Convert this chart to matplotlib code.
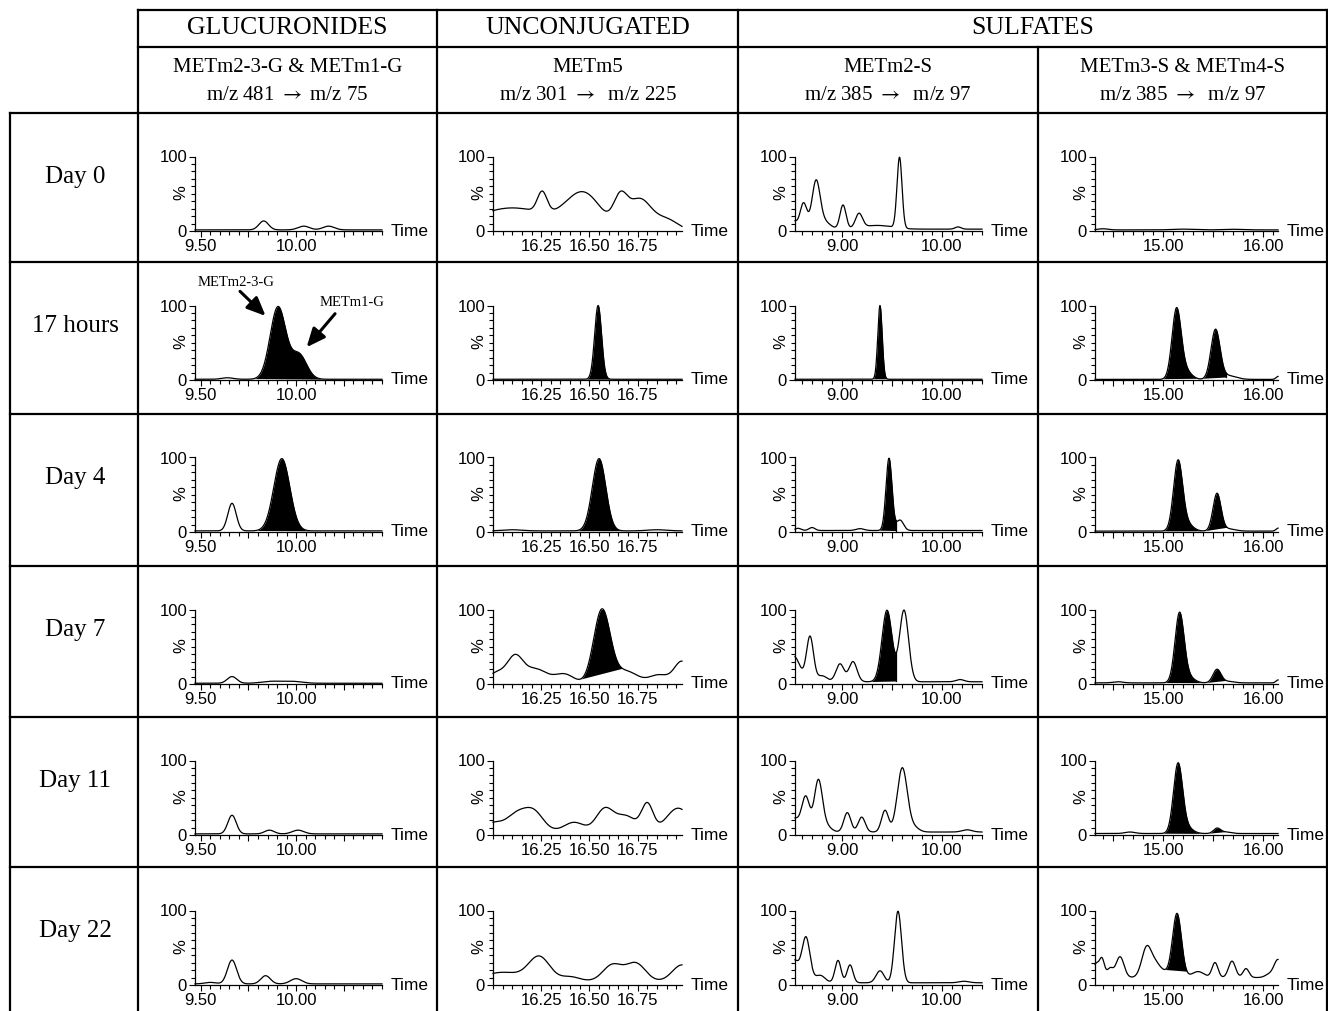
import numpy as np
import matplotlib.pyplot as plt
from matplotlib.ticker import MultipleLocator, FixedLocator, FixedFormatter

SERIF = ['Liberation Serif', 'DejaVu Serif']
plt.rcParams['font.family'] = ['Liberation Sans', 'DejaVu Sans']
plt.rcParams['mathtext.fontset'] = 'stix'

W, H = 1328, 1011

# table text
row_labels = ['Day 0', '17 hours', 'Day 4', 'Day 7', 'Day 11', 'Day 22']
groups = ['GLUCURONIDES', 'UNCONJUGATED', 'SULFATES']
analytes = ['METm2-3-G & METm1-G', 'METm5', 'METm2-S', 'METm3-S & METm4-S']
transitions = [r'm/z 481 $\rightarrow$ m/z 75', r'm/z 301 $\rightarrow$  m/z 225',
               r'm/z 385 $\rightarrow$  m/z 97', r'm/z 385 $\rightarrow$  m/z 97']

# time windows (min) and x tick labels per column
time_windows = [(9.47, 10.45), (16.00, 16.98), (8.53, 10.40), (14.32, 16.15)]
major_ticks = [[9.50, 9.75, 10.00, 10.25], [16.25, 16.50, 16.75],
               [9.00, 9.50, 10.00], [14.50, 15.00, 15.50, 16.00]]
tick_labels = [['9.50', '', '10.00', ''], ['16.25', '16.50', '16.75'],
               ['9.00', '', '10.00'], ['', '15.00', '', '16.00']]
minor_steps = [0.05, 0.05, 0.1, 0.1]

# peaks: (retention time, height %, width sigma)
# glucuronides  m/z 481 -> 75
glu_base = [1.5, 1.0, 1.5, 1.0, 1.5, 1.5]
glu_day0 = [(9.83, 12, 0.025), (10.04, 5, 0.03), (10.17, 5, 0.03)]
glu_17h = [(9.64, 2, 0.03), (9.905, 97, 0.041), (10.015, 33, 0.04)]
glu_day4 = [(9.664, 37, 0.022), (9.925, 97, 0.042)]
glu_day7 = [(9.664, 9, 0.025), (9.87, 2.5, 0.05), (9.98, 2.5, 0.05)]
glu_day11 = [(9.664, 25, 0.022), (9.86, 5, 0.025), (10.01, 5, 0.03)]
glu_day22 = [(9.55, 2, 0.03), (9.664, 32, 0.024), (9.84, 11, 0.025), (10.0, 7, 0.03)]

# unconjugated  m/z 301 -> 225
unc_base = [0, 1.0, 1.5, 0, 5, 5]
unc_day0 = [(16.10, 31, 0.2), (16.255, 28, 0.025), (16.47, 47, 0.09),
            (16.66, 37, 0.035), (16.76, 42, 0.06), (16.90, 15, 0.06)]
unc_17h = [(16.545, 99, 0.018)]
unc_day4 = [(16.10, 1.5, 0.05), (16.55, 97, 0.035), (16.85, 1.5, 0.05)]
unc_day7 = [(16.02, 15, 0.05), (16.115, 33, 0.04), (16.22, 20, 0.06), (16.37, 13, 0.05),
            (16.565, 99, 0.043), (16.69, 17, 0.06), (16.86, 12, 0.05), (16.98, 30, 0.04)]
unc_day11 = [(16.0, 11, 0.05), (16.12, 21, 0.05), (16.21, 26, 0.05), (16.42, 12, 0.05),
             (16.58, 30, 0.045), (16.69, 20, 0.05), (16.80, 36, 0.03), (16.96, 31, 0.06)]
unc_day22 = [(16.05, 12, 0.1), (16.24, 32, 0.055), (16.40, 6, 0.05),
             (16.62, 22, 0.05), (16.74, 24, 0.05), (16.98, 22, 0.05)]

# METm2-S  m/z 385 -> 97
s2_base = [2.5, 1.0, 2.0, 3.0, 4.0, 3.0]
s2_day0 = [(8.52, 10, 0.03), (8.615, 35, 0.035), (8.74, 62, 0.04), (8.82, 10, 0.06),
           (9.01, 32, 0.03), (9.17, 19, 0.035), (9.35, 5, 0.15), (9.575, 95, 0.025),
           (10.16, 3, 0.03)]
s2_17h = [(9.38, 99, 0.022)]
s2_day4 = [(8.56, 3, 0.03), (8.70, 4, 0.03), (9.18, 2.5, 0.04), (9.47, 97, 0.03),
           (9.58, 14, 0.035)]
s2_day7 = [(8.52, 34, 0.06), (8.68, 60, 0.035), (8.80, 8, 0.05), (8.98, 24, 0.04),
           (9.11, 27, 0.04), (9.45, 96, 0.05), (9.62, 96, 0.045), (10.18, 3, 0.04)]
s2_day11 = [(8.52, 18, 0.05), (8.637, 47, 0.04), (8.763, 68, 0.04), (8.84, 8, 0.05),
            (9.053, 26, 0.035), (9.197, 20, 0.035), (9.43, 29, 0.035), (9.603, 86, 0.05),
            (9.72, 6, 0.05), (10.25, 3, 0.05)]
s2_day22 = [(8.52, 30, 0.05), (8.64, 60, 0.04), (8.78, 10, 0.05), (8.96, 30, 0.03),
            (9.08, 24, 0.03), (9.38, 16, 0.04), (9.56, 96, 0.035), (10.22, 2, 0.05)]

# METm3-S & METm4-S  m/z 385 -> 97
s34_base = [1.5, 0.8, 1.2, 1.5, 2.0, 10.0]
s34_day0 = [(14.4, 1.5, 0.05), (15.2, 1, 0.1), (15.7, 0.8, 0.1)]
s34_17h = [(15.135, 92, 0.045), (15.22, 12, 0.06), (15.525, 66, 0.045),
           (15.65, 5, 0.08), (16.15, 4, 0.02)]
s34_day4 = [(15.15, 92, 0.045), (15.235, 10, 0.06), (15.54, 50, 0.04),
            (15.65, 3, 0.07), (16.15, 4, 0.02)]
s34_day7 = [(14.55, 1.5, 0.05), (15.165, 92, 0.045), (15.25, 8, 0.06), (15.54, 18, 0.04),
            (15.65, 2, 0.06), (16.15, 4, 0.02)]
s34_day11 = [(14.67, 2, 0.05), (15.15, 92, 0.045), (15.235, 8, 0.06), (15.54, 7, 0.035),
             (15.63, 2, 0.05)]
s34_day22 = [(14.33, 18, 0.03), (14.39, 24, 0.025), (14.47, 12, 0.03), (14.57, 28, 0.04),
             (14.84, 42, 0.05), (14.93, 12, 0.04), (15.0, 8, 0.05), (15.14, 86, 0.045),
             (15.35, 8, 0.06), (15.52, 20, 0.03), (15.69, 22, 0.035), (15.83, 12, 0.03),
             (16.06, 4, 0.04), (16.15, 24, 0.04)]

# integrated (black) areas: (start, end, baseline at start, baseline at end); None = on trace
glu_fill = [[], [(9.78, 10.15, None, None)], [(9.79, 10.10, None, None)], [], [], []]
unc_fill = [[], [(16.48, 16.61, None, None)], [(16.43, 16.67, None, None)],
            [(16.45, 16.67, None, None)], [], []]
s2_fill = [[], [(9.31, 9.45, None, None)], [(9.37, 9.545, None, 2)],
           [(9.28, 9.545, None, 4)], [], []]
s34_fill = [[], [(15.0, 15.40, None, None), (15.40, 15.63, None, 4)],
            [(15.0, 15.41, None, None), (15.41, 15.64, None, None)],
            [(15.02, 15.42, None, None), (15.42, 15.63, None, None)],
            [(15.0, 15.40, None, None), (15.43, 15.62, None, None)],
            [(15.02, 15.33, None, None)]]

peaks = [[glu_day0, glu_17h, glu_day4, glu_day7, glu_day11, glu_day22],
         [unc_day0, unc_17h, unc_day4, unc_day7, unc_day11, unc_day22],
         [s2_day0, s2_17h, s2_day4, s2_day7, s2_day11, s2_day22],
         [s34_day0, s34_17h, s34_day4, s34_day7, s34_day11, s34_day22]]
bases = [glu_base, unc_base, s2_base, s34_base]
fills = [glu_fill, unc_fill, s2_fill, s34_fill]


def trace(t, base, pk):
    y = np.full_like(t, base, dtype=float)
    for rt, h, s in pk:
        y += h * np.exp(-0.5 * ((t - rt) / s) ** 2)
    return y


fig = plt.figure(figsize=(W / 100, H / 100), dpi=100)
bg = fig.add_axes([0, 0, 1, 1])
bg.set_xlim(0, W)
bg.set_ylim(H, 0)
bg.axis('off')

# table grid (pixels)
col_edges = [138, 437, 738, 1038, 1327]
row_top = [113, 262, 414, 566, 717, 867]
LW = 1.6


def line(xs, ys):
    bg.plot(xs, ys, color='k', lw=LW, solid_capstyle='projecting')


line([138, 1327], [10, 10])
line([138, 1327], [47, 47])
for y in row_top:
    line([10, 1327], [y, y])
line([10, 10], [113, H + 5])
for x in col_edges[:3] + [1327]:
    line([x, x], [10, H + 5])
line([1038, 1038], [47, H + 5])

group_x = [287.5, 587.5, 1032.5]
for g, x in zip(groups, group_x):
    bg.text(x, 28, g, ha='center', va='center', fontsize=18.5, family=SERIF)
for c in range(4):
    xc = (col_edges[c] + col_edges[c + 1]) / 2
    bg.text(xc, 67, analytes[c], ha='center', va='center', fontsize=15, family=SERIF)
    bg.text(xc, 95, transitions[c], ha='center', va='center', fontsize=15, family=SERIF)
for r, lab in enumerate(row_labels):
    bg.text(75, row_top[r] + 64, lab, ha='center', va='center', fontsize=18, family=SERIF)

# chromatograms
col_x = [195, 493, 795, 1095]
col_w = [187, 189, 187, 183]
for c in range(4):
    t0, t1 = time_windows[c]
    t = np.linspace(t0, t1, 1500)
    for r in range(6):
        zero = row_top[r] + 118
        ax = fig.add_axes([col_x[c] / W, 1 - zero / H, col_w[c] / W, 74.5 / H])
        ax.set_facecolor('none')
        y = trace(t, bases[c][r], peaks[c][r])
        for a, b, ya, yb in fills[c][r]:
            m = (t >= a) & (t <= b)
            ts = t[m]
            ya = np.interp(a, t, y) if ya is None else ya
            yb = np.interp(b, t, y) if yb is None else yb
            base_line = ya + (yb - ya) * (ts - a) / (b - a)
            ax.fill_between(ts, base_line, y[m], where=y[m] >= base_line,
                            color='k', lw=0, interpolate=True)
            ax.plot([b, b], [yb, np.interp(b, t, y)], color='k', lw=0.9)
        ax.plot(t, y, color='k', lw=0.9, clip_on=False)
        ax.set_xlim(t0, t1)
        ax.set_ylim(0, 100)
        for s in ['top', 'right']:
            ax.spines[s].set_visible(False)
        for s in ['left', 'bottom']:
            ax.spines[s].set_linewidth(0.9)
        ax.xaxis.set_major_locator(FixedLocator(major_ticks[c]))
        ax.xaxis.set_major_formatter(FixedFormatter(tick_labels[c]))
        ax.xaxis.set_minor_locator(MultipleLocator(minor_steps[c]))
        ax.set_yticks([0, 100])
        ax.set_yticklabels(['0', '100'])
        ax.yaxis.set_minor_locator(MultipleLocator(10))
        ax.tick_params(which='major', direction='out', length=4.5, width=0.8,
                       labelsize=12, pad=1.2)
        ax.tick_params(which='minor', direction='out', length=2.6, width=0.8)
        ax.annotate('Time', xy=(1, 0), xycoords='axes fraction', xytext=(6, 0),
                    textcoords='offset points', ha='left', va='center', fontsize=12.5)
        ax.annotate('%', xy=(0, 0.51), xycoords='axes fraction', xytext=(-10, 0),
                    textcoords='offset points', ha='center', va='center',
                    rotation=90, fontsize=12)

        if c == 0 and r == 1:
            ax.text(9.685, 131, 'METm2-3-G', ha='center', va='center',
                    fontsize=10.5, family=SERIF)
            ax.text(10.293, 104, 'METm1-G', ha='center', va='center',
                    fontsize=10.5, family=SERIF)
            arrow = dict(arrowstyle='-|>,head_length=0.8,head_width=0.35', lw=2.2,
                         color='k', mutation_scale=14, shrinkA=0, shrinkB=0)
            ax.annotate('', xy=(9.84, 86), xytext=(9.706, 119), arrowprops=arrow,
                        annotation_clip=False)
            ax.annotate('', xy=(10.055, 44), xytext=(10.204, 89), arrowprops=arrow,
                        annotation_clip=False)

fig.savefig('out.png', dpi=100)
